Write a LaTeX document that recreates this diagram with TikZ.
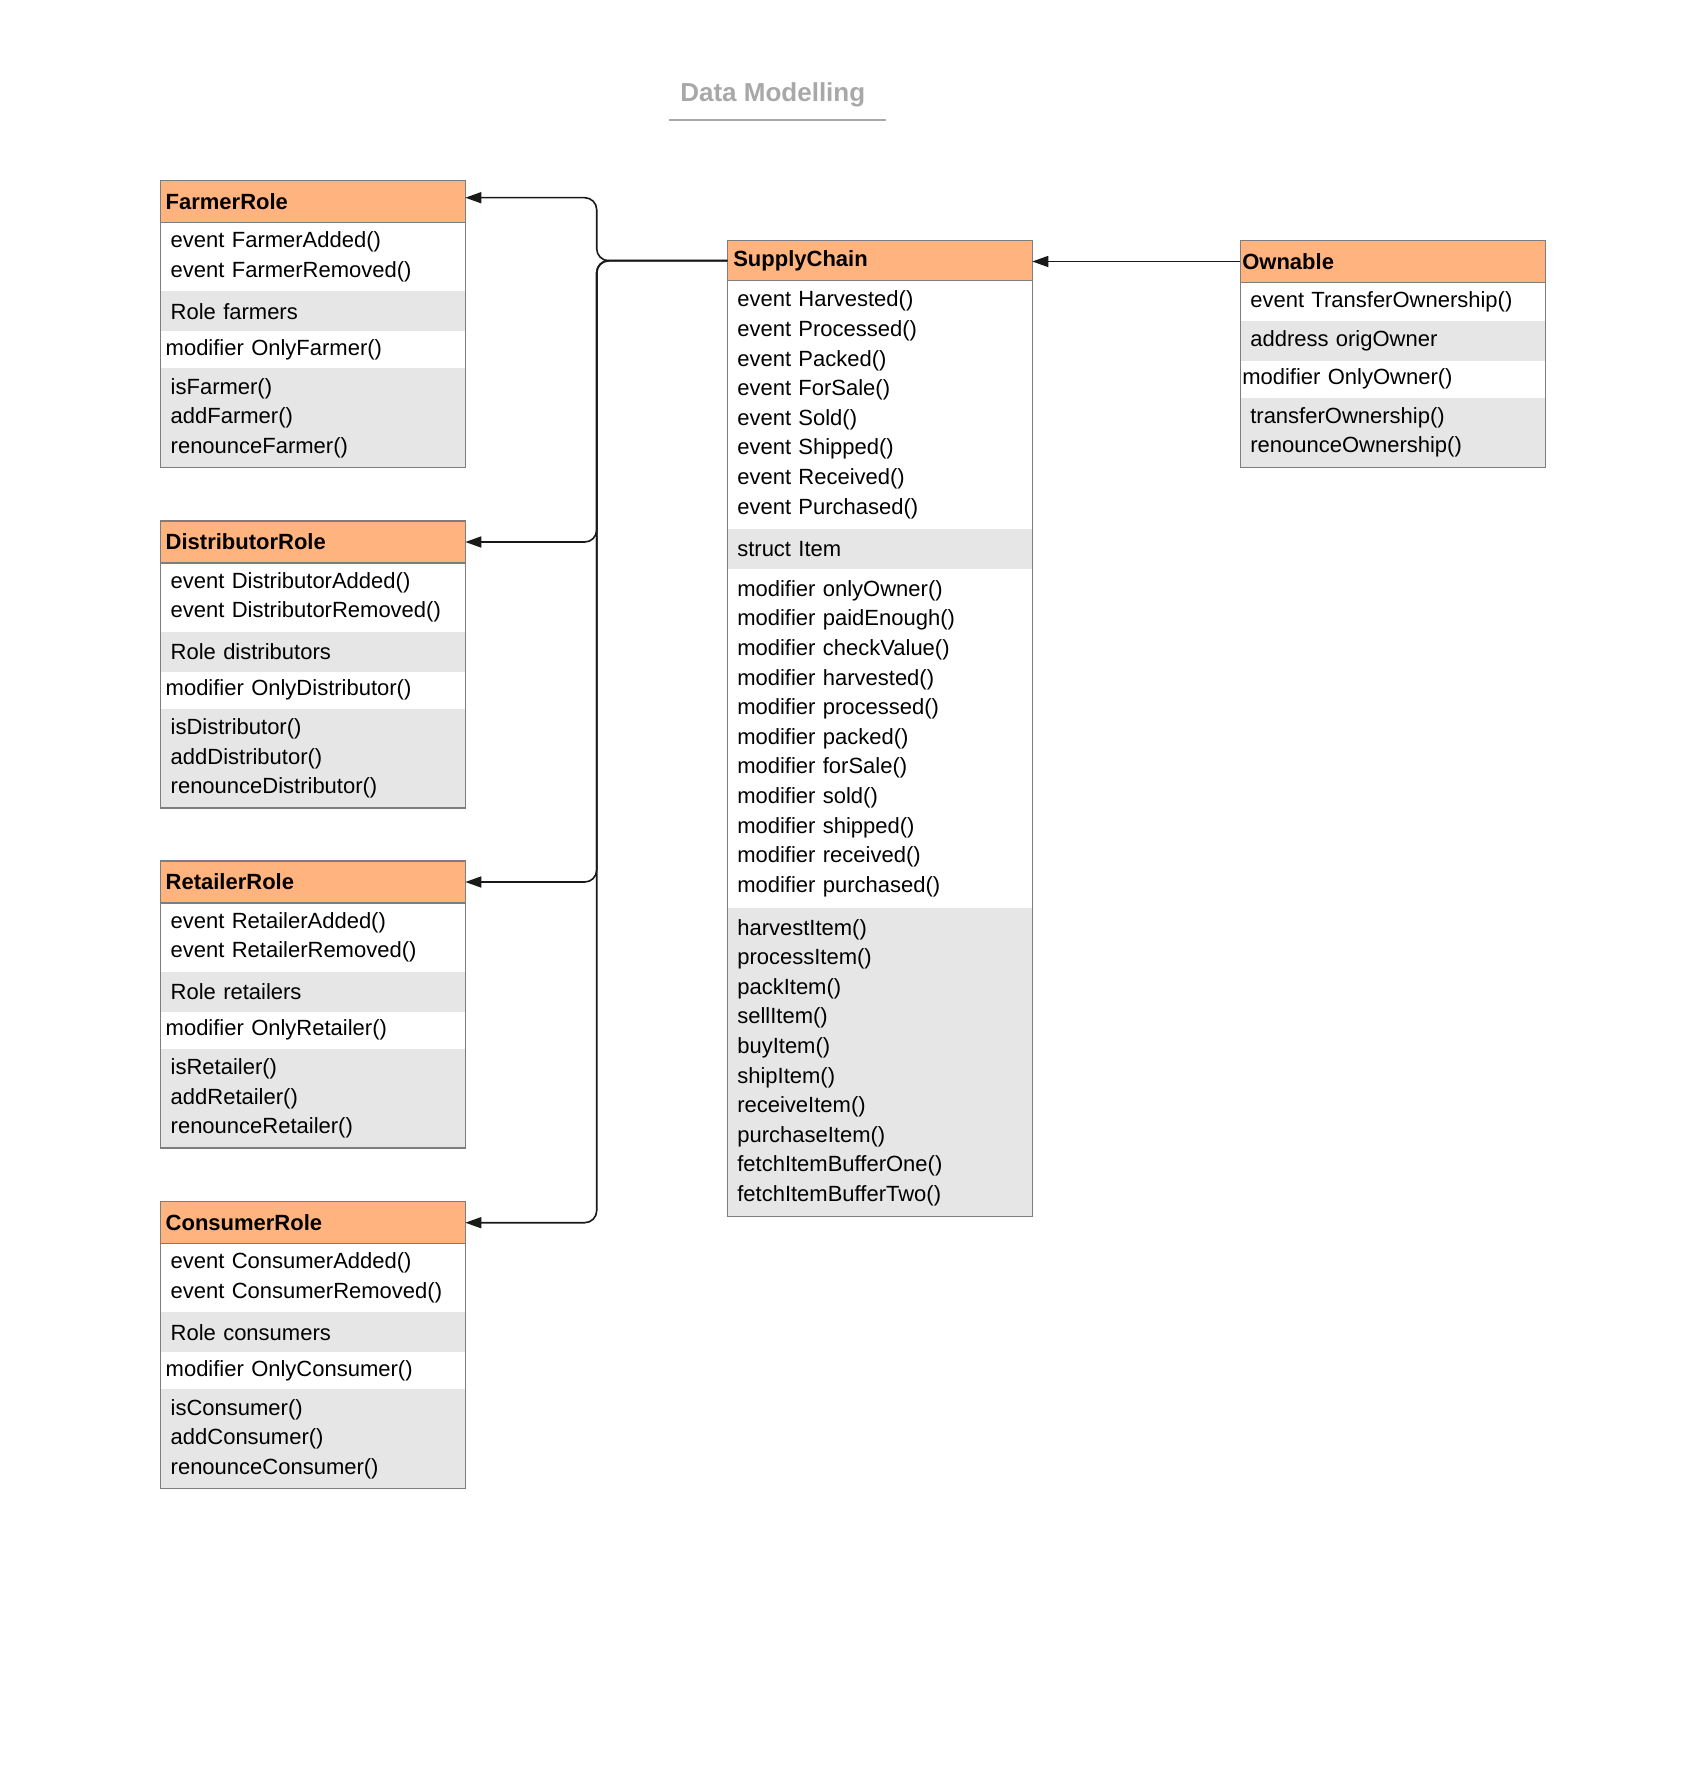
\documentclass[tikz,border=0pt]{standalone}
\usepackage{fontspec}
\setmainfont{Liberation Sans}
\usetikzlibrary{arrows.meta,calc}

\definecolor{hdrfill}{RGB}{255,180,128}
\definecolor{rowgray}{RGB}{230,230,230}
\definecolor{edgegray}{RGB}{125,125,125}
\definecolor{titlegray}{RGB}{168,168,168}
\definecolor{wire}{RGB}{25,25,25}

\tikzset{
  cell/.style={anchor=north west, outer sep=0pt, inner ysep=0pt, align=left,
    font=\fontsize{11pt}{14.8pt}\selectfont},
  hdr/.style={cell, fill=hdrfill, font=\fontsize{11pt}{14.8pt}\selectfont\bfseries},
  plain/.style={cell, fill=white},
  shaded/.style={cell, fill=rowgray},
  frame/.style={draw=edgegray, line width=0.75pt},
  conn/.style={draw=wire, line width=0.8pt, rounded corners=6pt,
    -{Triangle[length=8pt,width=5.5pt]}},
}

% one role class: id, top edge (px), role name, plural member
\newcommand\roleclass[4]{%
  \node[hdr, inner xsep=2.5pt, text width=147.3pt, minimum height=21pt] (#1-0) at (160.7,#2) {#3Role};
  \node[plain, inner xsep=5pt, text width=142.3pt, minimum height=34.35pt] (#1-1) at (#1-0.south west) {event #3Added()\\event #3Removed()};
  \node[shaded, inner xsep=5pt, text width=142.3pt, minimum height=20pt] (#1-2) at (#1-1.south west) {Role #4};
  \node[plain, inner xsep=2.5pt, text width=147.3pt, minimum height=18.5pt] (#1-3) at (#1-2.south west) {modifier Only#3()};
  \node[shaded, inner xsep=5pt, text width=142.3pt, minimum height=49.65pt] (#1-4) at (#1-3.south west) {is#3()\\add#3()\\renounce#3()};
  \draw[frame] (#1-0.north west) rectangle (#1-4.south east);
  \draw[frame] (#1-0.south west) -- (#1-0.south east);
}

\begin{document}
\begin{tikzpicture}[x=0.5pt, y=-0.5pt]
\useasboundingbox (0,0) rectangle (1700,1787);

% title
\node[font=\fontsize{13pt}{15pt}\selectfont\bfseries, text=titlegray, anchor=base, inner sep=0pt]
  (title) at (772.8,101.7) {Data Modelling};
\draw[titlegray, line width=1pt] (669,119.7) -- (886,119.7);

% role contracts
\roleclass{farmer}{180.7}{Farmer}{farmers}
\roleclass{dist}{521}{Distributor}{distributors}
\roleclass{retail}{861}{Retailer}{retailers}
\roleclass{cons}{1201.7}{Consumer}{consumers}

% SupplyChain
\node[hdr, inner xsep=3pt, text width=146.5pt, minimum height=20pt] (sc-0) at (727.3,240.7) {SupplyChain};
\node[plain, inner xsep=5pt, text width=142.5pt, minimum height=124.15pt] (sc-1) at (sc-0.south west)
  {event Harvested()\\event Processed()\\event Packed()\\event ForSale()\\event Sold()\\event Shipped()\\event Received()\\event Purchased()};
\node[shaded, inner xsep=5pt, text width=142.5pt, minimum height=19.85pt] (sc-2) at (sc-1.south west) {struct Item};
\node[plain, inner xsep=5pt, text width=142.5pt, minimum height=169.85pt] (sc-3) at (sc-2.south west)
  {modifier onlyOwner()\\modifier paidEnough()\\modifier checkValue()\\modifier harvested()\\modifier processed()\\modifier packed()\\modifier forSale()\\modifier sold()\\modifier shipped()\\modifier received()\\modifier purchased()};
\node[shaded, inner xsep=5pt, text width=142.5pt, minimum height=154.15pt] (sc-4) at (sc-3.south west)
  {harvestItem()\\processItem()\\packItem()\\sellItem()\\buyItem()\\shipItem()\\receiveItem()\\purchaseItem()\\fetchItemBufferOne()\\fetchItemBufferTwo()};
\draw[frame] (sc-0.north west) rectangle (sc-4.south east);
\draw[frame] (sc-0.south west) -- (sc-0.south east);

% Ownable
\node[hdr, inner xsep=1pt, text width=150.5pt, minimum height=20.8pt] (ow-0) at (1240.3,240.7) {Ownable};
\node[plain, inner xsep=5pt, text width=142.5pt, minimum height=19.2pt] (ow-1) at (ow-0.south west) {event TransferOwnership()};
\node[shaded, inner xsep=5pt, text width=142.5pt, minimum height=20pt] (ow-2) at (ow-1.south west) {address origOwner};
\node[plain, inner xsep=1pt, text width=150.5pt, minimum height=18.5pt] (ow-3) at (ow-2.south west) {modifier OnlyOwner()};
\node[shaded, inner xsep=5pt, text width=142.5pt, minimum height=34.8pt] (ow-4) at (ow-3.south west) {transferOwnership()\\renounceOwnership()};
\draw[frame] (ow-0.north west) rectangle (ow-4.south east);
\draw[frame] (ow-0.south west) -- (ow-0.south east);

% connectors
\coordinate (jn) at (596.7,260.7);
\coordinate (farmer-in) at ($(farmer-0.east)+(0,-4)$);
\draw[conn] (sc-0.west) -- (jn) |- (farmer-in);
\draw[conn] (sc-0.west) -- (jn) |- (dist-0.east);
\draw[conn] (sc-0.west) -- (jn) |- (retail-0.east);
\draw[conn] (sc-0.west) -- (jn) |- (cons-0.east);
\draw[conn] (ow-0.west) -- (ow-0.west -| sc-0.east);

\end{tikzpicture}
\end{document}
